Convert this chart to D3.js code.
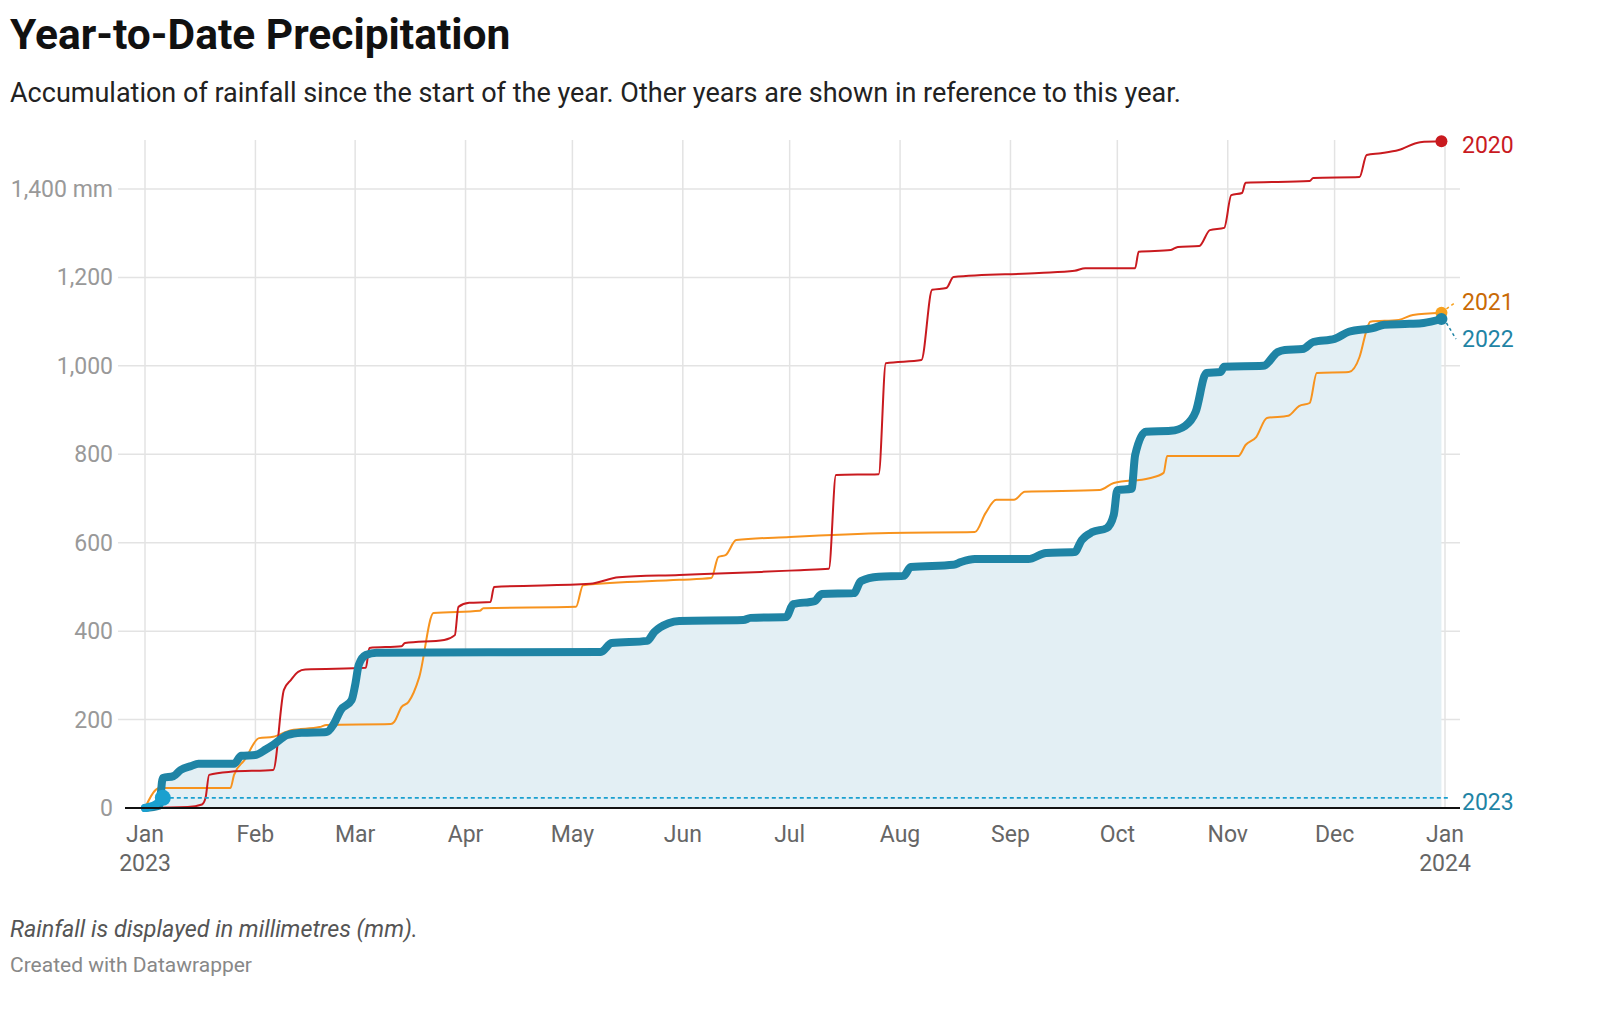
<!DOCTYPE html>
<html><head><meta charset="utf-8">
<script src="https://cdn.jsdelivr.net/npm/d3@7"></script>
<style>
body{margin:0;background:#fff;font-family:Roboto,sans-serif;}
</style></head><body>
<svg id="chart" width="1620" height="1020"></svg>
<script>
// [day of year, mm]
const rain2020 = [[0,0],[12,2],[16,8],[17,23],[18,75],[24,82],[36,86],[39,267],[41,290],[43,308],[45,313],[62,317],[63,362],[72,366],[73,373],[84,380],[87,391],[88,455],[91,464],[97,466],[98,500],[125,507],[133,522],[150,527],[173,534],[184,538],[192,541],[194,753],[206,755],[208,1006],[218,1013],[221,1172],[225,1176],[227,1201],[251,1210],[261,1215],[264,1221],[278,1221],[279,1258],[288,1262],[290,1269],[296,1271],[299,1307],[303,1312],[305,1386],[308,1391],[309,1414],[327,1418],[328,1425],[341,1427],[343,1477],[347,1481],[352,1488],[358,1506],[364,1508]];
const rain2021 = [[0,0],[3,41],[4,45],[24,45],[25,75],[28,109],[32,158],[36,161],[41,176],[49,183],[51,188],[69,190],[70,195],[72,228],[74,240],[77,296],[81,441],[94,446],[95,452],[121,455],[123,504],[150,516],[159,520],[161,568],[163,572],[166,606],[181,613],[209,622],[233,624],[236,667],[239,697],[244,697],[247,715],[268,719],[272,735],[282,746],[286,758],[287,796],[307,796],[309,821],[312,839],[315,882],[321,887],[324,909],[327,916],[329,984],[338,986],[341,1020],[343,1081],[344,1100],[352,1104],[356,1115],[364,1120]];
const rain2022 = [[0,0],[4,5],[5,68],[8,72],[10,86],[13,95],[15,100],[25,100],[27,118],[31,120],[34,133],[36,143],[40,165],[44,170],[51,172],[53,190],[55,222],[58,244],[59,278],[60,323],[62,346],[65,351],[128,353],[131,373],[141,378],[143,398],[147,418],[150,423],[168,425],[170,430],[180,432],[182,461],[188,468],[190,484],[199,486],[201,513],[206,523],[213,525],[215,545],[227,550],[229,556],[233,563],[248,563],[253,577],[261,579],[263,606],[266,624],[270,633],[272,663],[273,719],[277,722],[278,798],[281,851],[288,853],[292,864],[295,896],[298,984],[302,986],[303,998],[314,1000],[318,1031],[320,1036],[325,1038],[328,1054],[334,1061],[338,1077],[345,1086],[348,1093],[355,1095],[359,1097],[364,1106]];
const rain2023 = [[0,0],[1,2],[3,8],[5,23]];
const yTicks = [0,200,400,600,800,1000,1200,1400];
const monthLabels = ["Jan","Feb","Mar","Apr","May","Jun","Jul","Aug","Sep","Oct","Nov","Dec","Jan"];

const svg = d3.select("#chart");
const day0 = new Date(2023,0,1);
const toDate = d => new Date(2023,0,1+d);

const x = d3.scaleTime().domain([day0,new Date(2024,0,1)]).range([145,1445]);
const y = d3.scaleLinear().domain([0,1400]).range([808,189]);

// titles
svg.append("text").attr("x",10).attr("y",49).style("font-size","42.5px").style("font-weight","700").attr("fill","#111").text("Year-to-Date Precipitation");
svg.append("text").attr("x",10).attr("y",102).style("font-size","27px").attr("fill","#222").text("Accumulation of rainfall since the start of the year. Other years are shown in reference to this year.");

// grid
const months = d3.range(13).map(i => new Date(2023,i,1));
svg.append("g").selectAll("line").data(months).enter().append("line")
  .attr("x1",d=>x(d)).attr("x2",d=>x(d)).attr("y1",140).attr("y2",808)
  .attr("stroke","#e3e3e3").attr("stroke-width",1.5);
svg.append("g").selectAll("line").data(yTicks.slice(1)).enter().append("line")
  .attr("x1",118).attr("x2",1460).attr("y1",d=>y(d)).attr("y2",d=>y(d))
  .attr("stroke","#e3e3e3").attr("stroke-width",1.5);
svg.append("g").selectAll("text").data(yTicks).enter().append("text")
  .attr("x",113).attr("y",d=>y(d)+8).attr("text-anchor","end")
  .style("font-size","23px").attr("fill","#999")
  .text(d => d3.format(",")(d) + (d===1400 ? " mm" : ""));

// x labels
const xl = svg.append("g");
xl.selectAll("text").data(months).enter().append("text")
  .attr("x",d=>x(d)).attr("y",842).attr("text-anchor","middle")
  .style("font-size","23px").attr("fill","#666").text((d,i)=>monthLabels[i]);
xl.append("text").attr("x",x(months[0])).attr("y",871).attr("text-anchor","middle").style("font-size","23px").attr("fill","#666").text("2023");
xl.append("text").attr("x",x(months[12])).attr("y",871).attr("text-anchor","middle").style("font-size","23px").attr("fill","#666").text("2024");

const line = d3.line().x(d=>x(toDate(d[0]))).y(d=>y(d[1])).curve(d3.curveMonotoneX);
const area = d3.area().x(d=>x(toDate(d[0]))).y0(y(0)).y1(d=>y(d[1])).curve(d3.curveMonotoneX);

svg.append("path").datum(rain2022).attr("d",area).attr("fill","#e3eff4");
svg.append("path").datum(rain2021).attr("d",line).attr("fill","none").attr("stroke","#f7931e").attr("stroke-width",2);
svg.append("path").datum(rain2020).attr("d",line).attr("fill","none").attr("stroke","#c91a1f").attr("stroke-width",2);
svg.append("path").datum(rain2022).attr("d",line).attr("fill","none").attr("stroke","#1f84a5").attr("stroke-width",8).attr("stroke-linejoin","round").attr("stroke-linecap","round");

// 2023
const last23 = rain2023[rain2023.length-1];
svg.append("line").attr("x1",x(toDate(last23[0]))).attr("x2",1450).attr("y1",y(last23[1])).attr("y2",y(last23[1]))
  .attr("stroke","#1aa0cf").attr("stroke-width",1.8).attr("stroke-dasharray","4 3");
svg.append("path").datum(rain2023).attr("d",line).attr("fill","none").attr("stroke","#1aa0cf").attr("stroke-width",8).attr("stroke-linecap","round");
svg.append("circle").attr("cx",x(toDate(last23[0]))).attr("cy",y(last23[1])).attr("r",8).attr("fill","#1aa0cf");

// baseline
svg.append("line").attr("x1",125).attr("x2",1460).attr("y1",y(0)).attr("y2",y(0)).attr("stroke","#111").attr("stroke-width",2);

// end points & labels
const ends = [
  {d:rain2020, c:"#c91a1f", tc:"#c91a1f", ly:145, lab:"2020", r:6},
  {d:rain2021, c:"#f7a11e", tc:"#c96a05", ly:302, lab:"2021", r:6},
  {d:rain2022, c:"#1f84a5", tc:"#1f84a5", ly:339, lab:"2022", r:6}
];
ends.forEach(e => {
  const p = e.d[e.d.length-1];
  const px = x(toDate(p[0])), py = y(p[1]);
  svg.append("circle").attr("cx",px).attr("cy",py).attr("r",e.r).attr("fill",e.c);
  if (Math.abs(py - e.ly) > 8) {
    svg.append("line").attr("x1",px+5).attr("x2",1456).attr("y1",py+(e.ly>py?4:-4)).attr("y2",e.ly)
      .attr("stroke",e.c).attr("stroke-width",1.5).attr("stroke-dasharray","3 3");
  }
  svg.append("text").attr("x",1462).attr("y",e.ly+8).style("font-size","23px").attr("fill",e.tc).text(e.lab);
});
svg.append("text").attr("x",1462).attr("y",y(last23[1])+12).style("font-size","23px").attr("fill","#1f84a5").text("2023");

// footer
svg.append("text").attr("x",10).attr("y",937).style("font-size","23.3px").style("font-style","italic").attr("fill","#555").text("Rainfall is displayed in millimetres (mm).");
svg.append("text").attr("x",10).attr("y",972).style("font-size","21px").attr("fill","#888").text("Created with Datawrapper");
</script>
</body></html>
